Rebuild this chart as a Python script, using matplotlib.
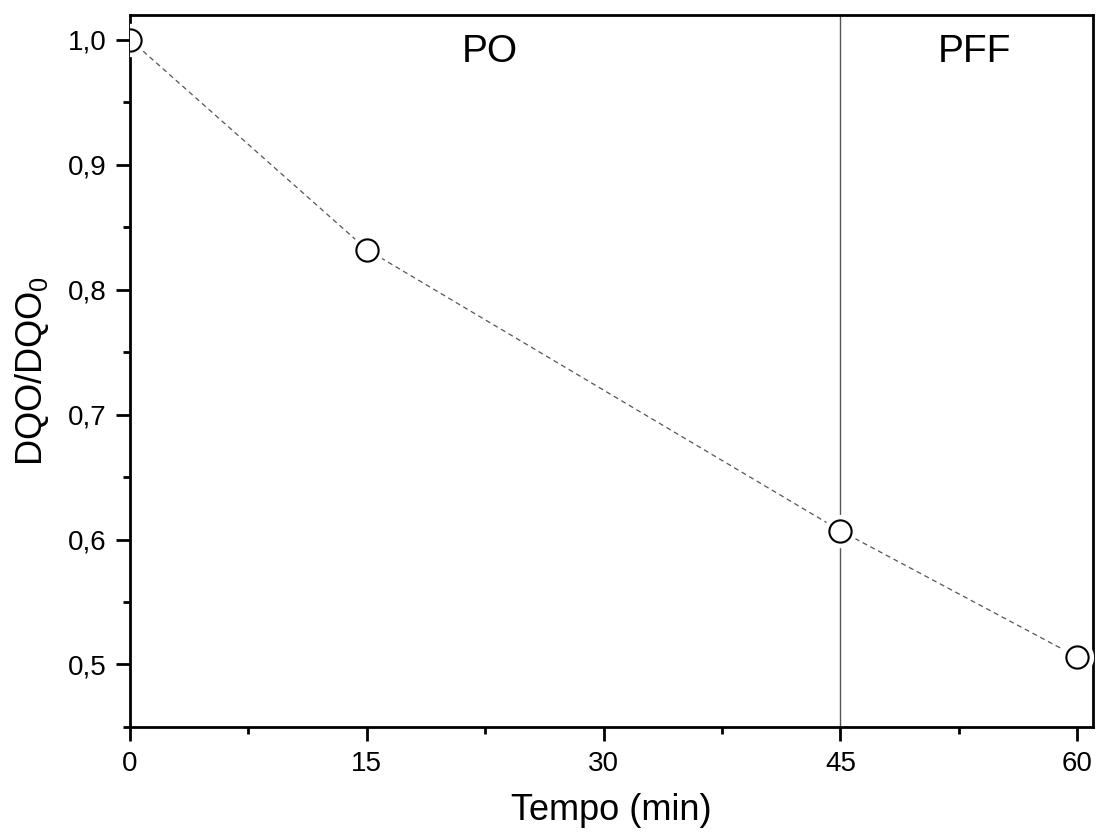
import matplotlib
matplotlib.use("Agg")
import matplotlib.pyplot as plt
from matplotlib.ticker import MultipleLocator, FuncFormatter

# Data
tempo = [0, 15, 45, 60]
dqo_ratio = [1.0, 0.832, 0.607, 0.506]
phase_split = 45
phase_labels = ["PO", "PFF"]
phase_label_x = [22.8, 53.5]

plt.rcParams['font.family'] = ['Liberation Sans', 'DejaVu Sans']
plt.rcParams['mathtext.default'] = 'regular'

fig = plt.figure(figsize=(10.96, 8.34), dpi=100)
ax = fig.add_axes([0.1186, 0.1283, 0.9973 - 0.1186, 0.9826 - 0.1283])

# dashed connecting line
ax.plot(tempo, dqo_ratio, linestyle=(0, (4, 3)), color='#555555', linewidth=0.9, zorder=2)
# white halo so the line stops short of the markers
ax.plot(tempo, dqo_ratio, linestyle='none', marker='o', markersize=24,
        markerfacecolor='white', markeredgecolor='none', zorder=3)
ax.plot(tempo, dqo_ratio, linestyle='none', marker='o', markersize=16,
        markerfacecolor='white', markeredgecolor='black', markeredgewidth=1.5, zorder=4)

ax.axvline(phase_split, color='#555555', linewidth=1.0, zorder=1)

for lbl, xp in zip(phase_labels, phase_label_x):
    ax.text(xp, 0.99, lbl, fontsize=28, ha='center', va='center')

ax.set_xlim(0, 61)
ax.set_ylim(0.45, 1.02)

ax.xaxis.set_major_locator(MultipleLocator(15))
ax.xaxis.set_minor_locator(MultipleLocator(7.5))
ax.yaxis.set_major_locator(MultipleLocator(0.1))
ax.yaxis.set_minor_locator(MultipleLocator(0.05))
ax.yaxis.set_major_formatter(FuncFormatter(lambda v, p: f"{v:.1f}".replace('.', ',')))

ax.tick_params(which='major', direction='out', length=10, width=2, labelsize=20, pad=7)
ax.tick_params(which='minor', direction='out', length=5, width=2)
for s in ax.spines.values():
    s.set_linewidth(2)

ax.set_xlabel('Tempo (min)', fontsize=26, labelpad=12)
ax.set_ylabel('DQO/DQO$_0$', fontsize=26, labelpad=12)

fig.savefig('out.png', dpi=100)
